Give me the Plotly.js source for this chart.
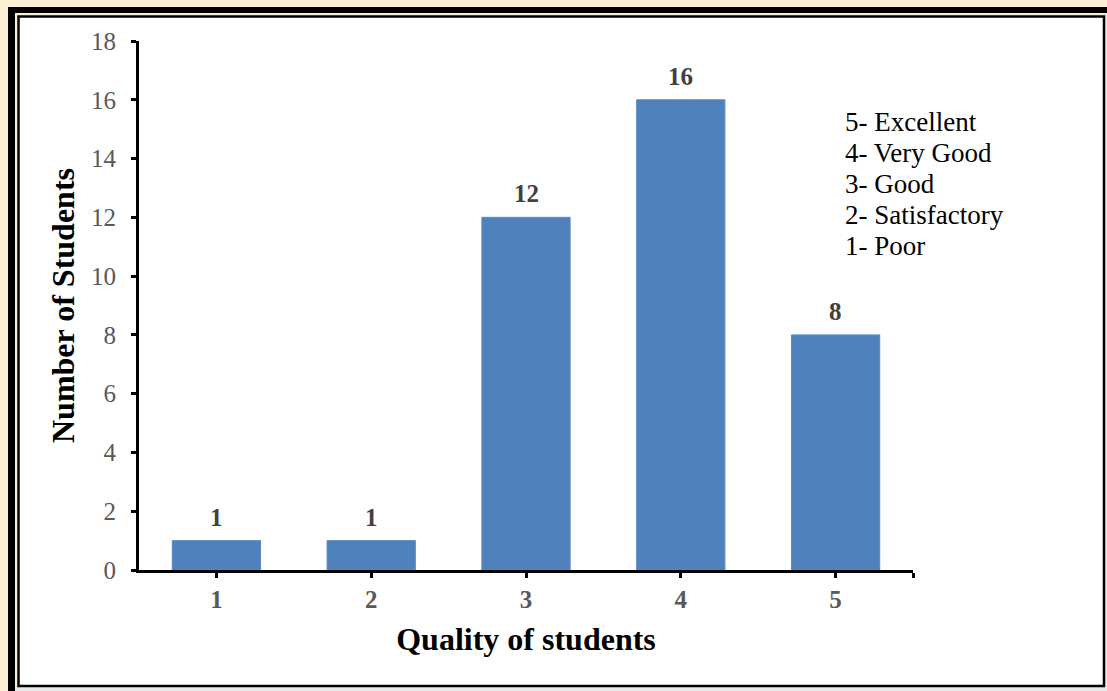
<!DOCTYPE html>
<html>
<head>
<meta charset="utf-8">
<script src="https://cdn.plot.ly/plotly-3.0.1.min.js"></script>
<style>html,body{margin:0;padding:0;background:#fbefd5;}#chart{width:1107px;height:691px;}</style>
</head>
<body>
<div id="chart"></div>
<script>
// ---- data ----
const categories = [1, 2, 3, 4, 5];
const students = [1, 1, 12, 16, 8];
const qualityNames = ["Poor", "Satisfactory", "Good", "Very Good", "Excellent"];
const yTicks = [0, 2, 4, 6, 8, 10, 12, 14, 16, 18];

const W = 1107, H = 691;
const L = 139, R = 913, T = 41, B = 570;
const pw = R - L, ph = B - T;
const px = v => (v - L) / pw;
const py = v => 1 - (v - T) / ph;

const serif = "Liberation Serif, Times New Roman, serif";

const trace = {
  type: "bar",
  x: categories,
  y: students,
  width: 0.57,
  marker: {color: "#4f81bd", line: {color: "#5a8ac4", width: 1}},
  hoverinfo: "x+y"
};

const annotations = categories.map((c, i) => ({
  x: c, y: students[i], xref: "x", yref: "y",
  text: String(students[i]), showarrow: false,
  yanchor: "bottom", yshift: 8,
  font: {family: serif, size: 25, color: "#404040", weight: "bold"}
}));

// key text, one line per quality level (highest first)
const keyLines = categories.slice().reverse().map(c => c + "- " + qualityNames[c - 1]);
keyLines.forEach((line, i) => {
  annotations.push({
    xref: "paper", yref: "paper", x: px(843), y: py(122 + i * 31),
    xanchor: "left", yanchor: "middle", align: "left", showarrow: false,
    text: line,
    font: {family: serif, size: 27, color: "#000000"}
  });
});

const shapes = [
  // light grey strips at bottom / right edge
  {type: "rect", xref: "paper", yref: "paper", layer: "below",
   x0: px(15), x1: px(1107), y0: py(686), y1: py(691),
   fillcolor: "#e8e8e8", line: {width: 0}},
  {type: "rect", xref: "paper", yref: "paper", layer: "below",
   x0: px(1104), x1: px(1107), y0: py(13), y1: py(691),
   fillcolor: "#e8e8e8", line: {width: 0}},
  // white frame panel with thin border
  {type: "rect", xref: "paper", yref: "paper", layer: "below",
   x0: px(18.5), x1: px(1104), y0: py(16.5), y1: py(686),
   fillcolor: "#ffffff", line: {color: "#000000", width: 2.5}},
  // thick top bar
  {type: "rect", xref: "paper", yref: "paper", layer: "below",
   x0: px(8), x1: px(1107), y0: py(7), y1: py(13),
   fillcolor: "#000000", line: {width: 0}},
  // thick left bar
  {type: "rect", xref: "paper", yref: "paper", layer: "below",
   x0: px(8), x1: px(15), y0: py(7), y1: py(691),
   fillcolor: "#000000", line: {width: 0}}
];

const layout = {
  width: W, height: H,
  margin: {l: L, r: W - R, t: T, b: H - B, pad: 0},
  paper_bgcolor: "#fbefd5",
  plot_bgcolor: "rgba(0,0,0,0)",
  showlegend: false,
  xaxis: {
    range: [0.5, categories.length + 0.5],
    tickmode: "array",
    tickvals: categories.concat([categories.length + 0.5]),
    ticktext: categories.map(String).concat([""]),
    ticks: "outside", ticklen: 5, tickwidth: 3, tickcolor: "#000",
    showline: true, linewidth: 3, linecolor: "#000",
    showgrid: false, zeroline: false,
    tickfont: {family: serif, size: 25, color: "#595959", weight: "bold"},
    title: {text: "Quality of students", standoff: 16,
            font: {family: serif, size: 32, color: "#000", weight: "bold"}}
  },
  yaxis: {
    range: [0, 18],
    tickmode: "array", tickvals: yTicks, ticktext: yTicks.map(String),
    ticks: "outside", ticklen: 5, tickwidth: 3, tickcolor: "#000",
    showline: true, linewidth: 3, linecolor: "#000",
    showgrid: false, zeroline: false,
    ticklabelstandoff: 10,
    tickfont: {family: serif, size: 25, color: "#595959"},
    title: {text: "Number of Students", standoff: 7,
            font: {family: serif, size: 32, color: "#000", weight: "bold"}}
  },
  annotations: annotations,
  shapes: shapes
};

Plotly.newPlot("chart", [trace], layout, {displayModeBar: false});
</script>
</body>
</html>
